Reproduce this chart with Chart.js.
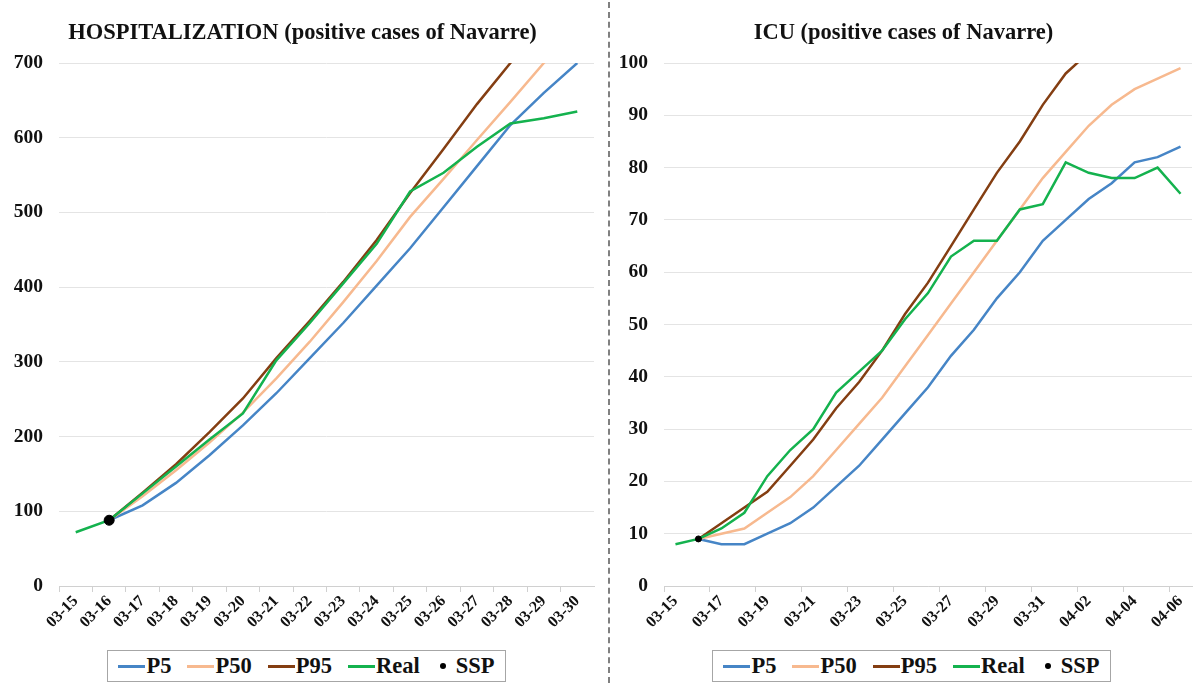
<!DOCTYPE html>
<html>
<head>
<meta charset="utf-8">
<script src="https://cdn.jsdelivr.net/npm/chart.js@4.4.0/dist/chart.umd.min.js"></script>
<style>
  body { margin: 0; background: #fff; width: 1197px; height: 683px; overflow: hidden; position: relative; font-family: "Liberation Serif", serif; }
  .box { position: absolute; top: 0; height: 650px; }
  #hospBox { left: 10px; width: 590px; }
  #icuBox { left: 610px; width: 587px; }
  .sep { position: absolute; left: 608px; top: 2px; height: 681px; border-left: 2px dashed #808080; }
  .legend { position: absolute; top: 650px; height: 32px; border: 1px solid #a6a6a6; display: flex; align-items: center; justify-content: center;
            font-weight: bold; font-size: 22.5px; color: #111; box-sizing: border-box; }
  .legend .ln { display: inline-block; width: 27px; height: 0; border-top: 3px solid; margin-right: 1px; }
  .legend .it { display: inline-flex; align-items: center; margin: 0 8px; }
  .legend .dot { display: inline-block; width: 6px; height: 6px; border-radius: 50%; background: #000; margin: 0 10px 0 4px; }
</style>
</head>
<body>
<div class="box" id="hospBox"><canvas id="hospChart"></canvas></div>
<div class="box" id="icuBox"><canvas id="icuChart"></canvas></div>
<div class="sep"></div>

<div class="legend" style="left:107px; width:399px;">
  <span class="it"><span class="ln" style="border-color:#4685c6"></span>P5</span>
  <span class="it"><span class="ln" style="border-color:#f7b98f"></span>P50</span>
  <span class="it"><span class="ln" style="border-color:#843e12"></span>P95</span>
  <span class="it"><span class="ln" style="border-color:#14b24e"></span>Real</span>
  <span class="it"><span class="dot"></span>SSP</span>
</div>
<div class="legend" style="left:712px; width:399px;">
  <span class="it"><span class="ln" style="border-color:#4685c6"></span>P5</span>
  <span class="it"><span class="ln" style="border-color:#f7b98f"></span>P50</span>
  <span class="it"><span class="ln" style="border-color:#843e12"></span>P95</span>
  <span class="it"><span class="ln" style="border-color:#14b24e"></span>Real</span>
  <span class="it"><span class="dot"></span>SSP</span>
</div>

<script>
// Hospitalizacion (Navarra)
var hospLabels = ['03-15','03-16','03-17','03-18','03-19','03-20','03-21','03-22','03-23','03-24','03-25','03-26','03-27','03-28','03-29','03-30'];
var hospP5   = [null, 88, 108, 138, 175, 215, 258, 305, 352, 402, 452, 507, 562, 617, 660, 700];
var hospP50  = [null, 88, 120, 155, 192, 232, 278, 327, 380, 435, 494, 545, 597, 648, 700, 752];
var hospP95  = [null, 88, 125, 163, 206, 251, 305, 355, 407, 463, 526, 585, 645, 700, 755, 810];
var hospReal = [72, 88, 124, 160, 196, 231, 302, 352, 405, 458, 528, 553, 588, 619, 626, 635];
var hospSSP  = [null, 88, null, null, null, null, null, null, null, null, null, null, null, null, null, null];

// UCI (Navarra)
var icuLabels = ['03-15','03-16','03-17','03-18','03-19','03-20','03-21','03-22','03-23','03-24','03-25','03-26',
                 '03-27','03-28','03-29','03-30','03-31','04-01','04-02','04-03','04-04','04-05','04-06'];
var icuP5   = [null, 9, 8, 8, 10, 12, 15, 19, 23, 28, 33, 38, 44, 49, 55, 60, 66, 70, 74, 77, 81, 82, 84];
var icuP50  = [null, 9, 10, 11, 14, 17, 21, 26, 31, 36, 42, 48, 54, 60, 66, 72, 78, 83, 88, 92, 95, 97, 99];
var icuP95  = [null, 9, 12, 15, 18, 23, 28, 34, 39, 45, 52, 58, 65, 72, 79, 85, 92, 98, 102, null, null, null, null];
var icuReal = [8, 9, 11, 14, 21, 26, 30, 37, 41, 45, 51, 56, 63, 66, 66, 72, 73, 81, 79, 78, 78, 80, 75];
var icuSSP  = [null, 9, null, null, null, null, null, null, null, null, null, null, null, null, null, null, null, null, null, null, null, null, null];

var serif = "'Liberation Serif', 'Times New Roman', serif";

function lineSet(label, data, color, order) {
    return {
        label: label,
        data: data,
        borderColor: color,
        backgroundColor: color,
        borderWidth: 2.5,
        pointRadius: 0,
        tension: 0,
        order: order
    };
}

function makeChart(id, title, labels, p5, p50, p95, real, ssp, yMax, yStep, axisW, padRight, dotR, every) {
    var ctx = document.getElementById(id);
    return new Chart(ctx, {
        type: 'line',
        data: {
            labels: labels,
            datasets: [
                lineSet('P5', p5, '#4685c6', 4),
                lineSet('P50', p50, '#f7b98f', 3),
                lineSet('P95', p95, '#843e12', 2),
                lineSet('Real', real, '#14b24e', 1),
                {
                    label: 'SSP',
                    data: ssp,
                    showLine: false,
                    pointRadius: dotR,
                    pointBackgroundColor: '#000',
                    pointBorderColor: '#000',
                    order: 0
                }
            ]
        },
        options: {
            responsive: true,
            maintainAspectRatio: false,
            animation: false,
            layout: { padding: { left: 0, right: padRight, top: 0, bottom: 0 } },
            plugins: {
                legend: { display: false },
                tooltip: { enabled: false },
                title: {
                    display: true,
                    text: title,
                    color: '#111',
                    font: { family: serif, size: 22.5, weight: 'bold' },
                    padding: { top: 20, bottom: 16 }
                }
            },
            scales: {
                x: {
                    offset: true,
                    grid: {
                        offset: true,
                        drawOnChartArea: false,
                        tickLength: 6,
                        color: function(c) { return (c.index % every === 0) ? '#d0d0d0' : 'rgba(0,0,0,0)'; }
                    },
                    border: { color: '#d0d0d0' },
                    ticks: {
                        autoSkip: false,
                        minRotation: 45,
                        maxRotation: 45,
                        padding: 0,
                        color: '#111',
                        font: { family: serif, size: 16, weight: 'bold' },
                        callback: function(v, i) { return (i % every === 0) ? labels[i] : ''; }
                    },
                    afterFit: function(s) { s.height = 64; }
                },
                y: {
                    min: 0,
                    max: yMax,
                    grid: { color: '#e4e4e4', drawTicks: false },
                    border: { display: false },
                    ticks: {
                        stepSize: yStep,
                        padding: 16,
                        color: '#111',
                        font: { family: serif, size: 19.5, weight: 'bold' }
                    },
                    afterFit: function(s) { s.width = axisW; }
                }
            }
        }
    });
}

var hospChart = makeChart('hospChart', 'HOSPITALIZATION (positive cases of Navarre)',
    hospLabels, hospP5, hospP50, hospP95, hospReal, hospSSP, 700, 100, 49, 5, 5, 1);
var icuChart = makeChart('icuChart', 'ICU (positive cases of Navarre)',
    icuLabels, icuP5, icuP50, icuP95, icuReal, icuSSP, 100, 10, 54, 0, 3, 2);
</script>
</body>
</html>
